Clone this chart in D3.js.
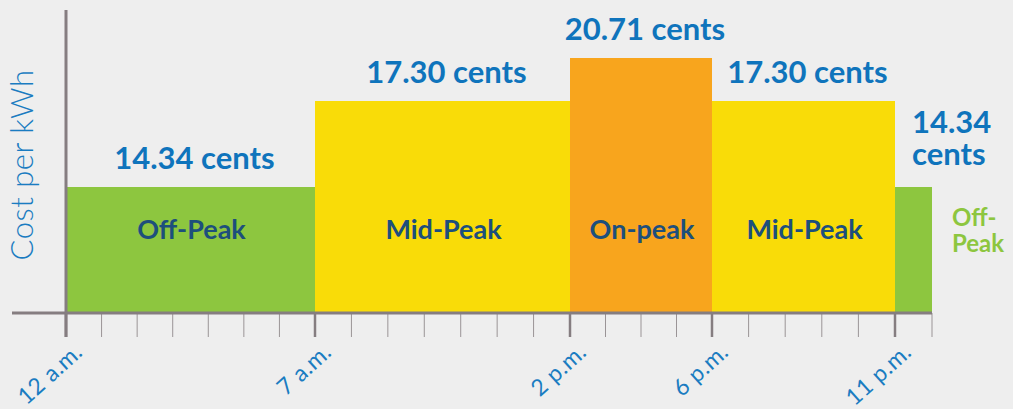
<!DOCTYPE html>
<html>
<head>
<meta charset="utf-8">
<script src="https://cdn.jsdelivr.net/npm/d3@7"></script>
<style>
  html, body { margin: 0; padding: 0; background: #eeeeee; }
  svg { display: block; font-family: Lato, "Noto Sans", sans-serif; }
</style>
</head>
<body>
<div id="chart"></div>
<script>
// Rate periods over the day
const periods = ["Off-Peak", "Mid-Peak", "On-peak", "Mid-Peak", "Off-Peak"];
const startHours = [0, 7, 14, 18, 23];
const endHours = [7, 14, 18, 23, 24];
const rates = [14.34, 17.30, 20.71, 17.30, 14.34];
const majorHours = [0, 7, 14, 18, 23];
const majorLabels = ["12 a.m.", "7 a.m.", "2 p.m.", "6 p.m.", "11 p.m."];

const colors = { "Off-Peak": "#8dc63f", "Mid-Peak": "#f9dc08", "On-peak": "#f8a51d" };

const width = 1013, height = 409;
const baseY = 313;

const svg = d3.select("#chart").append("svg")
  .attr("width", width)
  .attr("height", height);

svg.append("rect").attr("width", width).attr("height", height).attr("fill", "#eeeeee");

// x: hours -> px (the artwork spaces the hours slightly unevenly)
const x = d3.scaleLinear()
  .domain([0, 7, 14, 18, 23, 24])
  .range([66, 315, 570, 712, 895, 932]);

// y: the bar heights in the artwork are not proportional, so map each level
const levels = [0].concat(Array.from(new Set(rates)).sort((a, b) => a - b));
const y = d3.scaleLinear()
  .domain(levels)
  .range([baseY, 187, 101, 58]);

const data = periods.map((p, i) => ({
  period: p, start: startHours[i], end: endHours[i], rate: rates[i]
}));

// bars
svg.append("g").selectAll("rect")
  .data(data)
  .join("rect")
  .attr("x", d => x(d.start))
  .attr("y", d => y(d.rate))
  .attr("width", d => x(d.end) - x(d.start))
  .attr("height", d => y(0) - y(d.rate))
  .attr("fill", d => colors[d.period]);

// period names inside bars (last one sits outside, in green)
svg.append("g").selectAll("text")
  .data(data.slice(0, 4))
  .join("text")
  .attr("x", d => (x(d.start) + x(d.end)) / 2 + 1)
  .attr("y", 239)
  .attr("text-anchor", "middle")
  .attr("fill", "#1d4f7c")
  .style("font-size", "27px")
  .style("font-weight", "bold")
  .text(d => d.period);

const last = data[4];
svg.append("text")
  .attr("x", x(last.end) + 20)
  .attr("y", 226)
  .attr("fill", "#8dc63f")
  .style("font-size", "24px")
  .style("font-weight", "bold")
  .text("Off-");
svg.append("text")
  .attr("x", x(last.end) + 20)
  .attr("y", 252)
  .attr("fill", "#8dc63f")
  .style("font-size", "24px")
  .style("font-weight", "bold")
  .text("Peak");

// rate labels above bars
svg.append("g").selectAll("text")
  .data(data.slice(0, 4))
  .join("text")
  .attr("x", d => (x(d.start) + x(d.end)) / 2 + 4)
  .attr("y", d => y(d.rate) - 18)
  .attr("text-anchor", "middle")
  .attr("fill", "#0f74bc")
  .style("font-size", "31px")
  .style("font-weight", "bold")
  .text(d => d.rate.toFixed(2) + " cents");

svg.append("text")
  .attr("x", x(last.start) + 17)
  .attr("y", y(last.rate) - 54)
  .attr("fill", "#0f74bc")
  .style("font-size", "31px")
  .style("font-weight", "bold")
  .text(last.rate.toFixed(2));
svg.append("text")
  .attr("x", x(last.start) + 17)
  .attr("y", y(last.rate) - 22)
  .attr("fill", "#0f74bc")
  .style("font-size", "31px")
  .style("font-weight", "bold")
  .text("cents");

// x axis: hourly ticks, heavier at period boundaries
const axisColor = "#857d80";
const hours = d3.range(0, 25);
svg.append("g").selectAll("line")
  .data(hours)
  .join("line")
  .attr("x1", d => x(d))
  .attr("x2", d => x(d))
  .attr("y1", baseY)
  .attr("y2", 337)
  .attr("stroke", d => majorHours.includes(d) ? axisColor : "#9a9496")
  .attr("stroke-width", d => majorHours.includes(d) ? 2.5 : 1);

svg.append("line")
  .attr("x1", 12).attr("x2", x(24))
  .attr("y1", baseY).attr("y2", baseY)
  .attr("stroke", axisColor)
  .attr("stroke-width", 3);

// y axis
svg.append("line")
  .attr("x1", x(0)).attr("x2", x(0))
  .attr("y1", 10).attr("y2", baseY + 24)
  .attr("stroke", axisColor)
  .attr("stroke-width", 3);

// tick labels
svg.append("g").selectAll("text")
  .data(majorHours)
  .join("text")
  .attr("transform", d => `translate(${x(d) + 18},${354}) rotate(-42)`)
  .attr("text-anchor", "end")
  .attr("fill", "#1a7cc1")
  .style("font-size", "23px")
  .style("letter-spacing", "0.5px")
  .text((d, i) => majorLabels[i]);

// y title
svg.append("text")
  .attr("transform", `translate(33,165) rotate(-90)`)
  .attr("text-anchor", "middle")
  .attr("fill", "#1a7cc1")
  .style("font-size", "31px")
  .style("font-weight", "300")
  .style("letter-spacing", "0.5px")
  .text("Cost per kWh");
</script>
</body>
</html>
